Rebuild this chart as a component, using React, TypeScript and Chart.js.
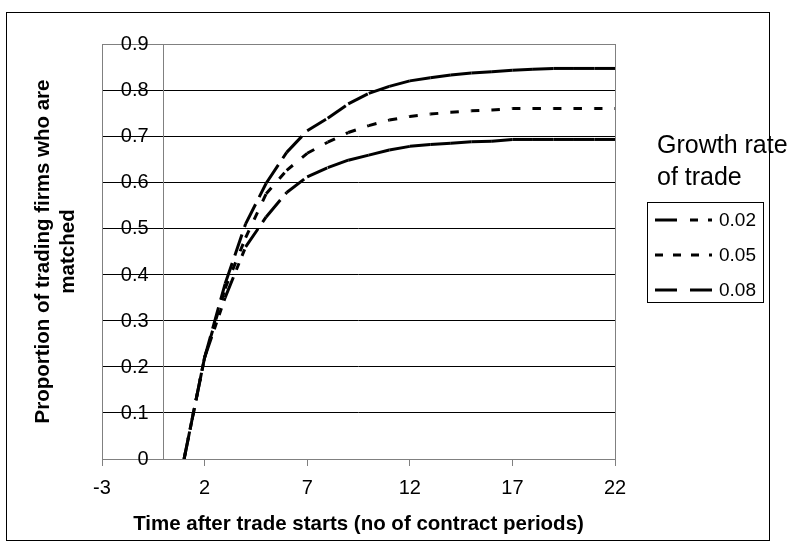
import React, { useEffect, useRef } from "react";
import { Chart, registerables } from "chart.js";

Chart.register(...registerables);

// ---- data ----
const timePoints = [1, 2, 3, 4, 5, 6, 7, 8, 9, 10, 11, 12, 13, 14, 15, 16, 17, 18, 19, 20, 21, 22];
const rate002 = [0, 0.22, 0.35, 0.46, 0.525, 0.578, 0.612, 0.632, 0.648, 0.659, 0.67, 0.678, 0.682, 0.685, 0.688, 0.689, 0.693, 0.693, 0.693, 0.693, 0.693, 0.693];
const rate005 = [0, 0.22, 0.37, 0.48, 0.575, 0.626, 0.663, 0.687, 0.708, 0.723, 0.735, 0.743, 0.748, 0.752, 0.755, 0.757, 0.76, 0.76, 0.76, 0.76, 0.76, 0.76];
const rate008 = [0, 0.22, 0.38, 0.51, 0.598, 0.665, 0.712, 0.739, 0.77, 0.793, 0.808, 0.82, 0.827, 0.833, 0.837, 0.84, 0.843, 0.845, 0.847, 0.847, 0.847, 0.847];
const seriesLabels = ["0.02", "0.05", "0.08"];
const xTickValues = [-3, 2, 7, 12, 17, 22];
const yTickValues = [0, 0.1, 0.2, 0.3, 0.4, 0.5, 0.6, 0.7, 0.8, 0.9];
const xAxisTitle = "Time after trade starts (no of contract periods)";
const yAxisTitleLines = ["Proportion of trading firms who are", "matched"];
const legendTitleLines = ["Growth rate", "of trade"];

const FONT = '"Liberation Sans", Arial, Helvetica, sans-serif';
const plotDashes = [
  [22, 8, 7, 8, 7, 8],
  [8, 12],
  [22, 8],
];
const legendDashes = [
  [22, 13, 8, 10, 8, 10],
  [8, 10],
  [22, 13],
];

const fmtTick = (v: number) => String(Number(Number(v).toFixed(1)));

const framePlugin = {
  id: "frame",
  beforeDraw(chart: any) {
    const { ctx } = chart;
    ctx.save();
    ctx.fillStyle = "#fff";
    ctx.fillRect(0, 0, chart.width, chart.height);
    ctx.strokeStyle = "#000";
    ctx.lineWidth = 1;
    ctx.strokeRect(6.5, 12.5, 763, 528);
    ctx.restore();
  },
  beforeDatasetsDraw(chart: any) {
    const { ctx, chartArea: a } = chart;
    ctx.save();
    ctx.strokeStyle = "#808080";
    ctx.lineWidth = 1;
    ctx.strokeRect(Math.round(a.left) + 0.5, Math.round(a.top) + 0.5, Math.round(a.right - a.left), Math.round(a.bottom - a.top));
    ctx.restore();
  },
  afterDraw(chart: any) {
    const { ctx, chartArea: a } = chart;
    const xs = chart.scales.x;
    const ys = chart.scales.y;

    // y tick labels, right-aligned left of the axis crossing at x = 0
    ctx.save();
    ctx.fillStyle = "#000";
    ctx.font = `20px ${FONT}`;
    ctx.textAlign = "right";
    ctx.textBaseline = "middle";
    const axisX = xs.getPixelForValue(0);
    ys.ticks.forEach((t: any) => {
      ctx.fillText(fmtTick(t.value), axisX - 15, ys.getPixelForValue(t.value) + 0.5);
    });
    ctx.restore();

    // y axis title
    ctx.save();
    ctx.fillStyle = "#000";
    ctx.font = `bold 20.5px ${FONT}`;
    ctx.textAlign = "center";
    ctx.textBaseline = "middle";
    ctx.translate(43, (a.top + a.bottom) / 2);
    ctx.rotate(-Math.PI / 2);
    yAxisTitleLines.forEach((line, i) => ctx.fillText(line, 0, i * 25));
    ctx.restore();

    // legend
    ctx.save();
    ctx.fillStyle = "#000";
    ctx.textAlign = "left";
    ctx.textBaseline = "alphabetic";
    ctx.font = `25px ${FONT}`;
    legendTitleLines.forEach((line, i) => ctx.fillText(line, 657, 153 + i * 32));
    ctx.strokeStyle = "#000";
    ctx.lineWidth = 1;
    ctx.strokeRect(647.5, 202.5, 116, 100);
    ctx.font = `19px ${FONT}`;
    ctx.textBaseline = "middle";
    chart.data.datasets.forEach((ds: any, i: number) => {
      const y = 220 + i * 35;
      ctx.save();
      ctx.strokeStyle = "#000";
      ctx.lineWidth = 3;
      ctx.setLineDash(legendDashes[i]);
      ctx.beginPath();
      ctx.moveTo(655, y);
      ctx.lineTo(712, y);
      ctx.stroke();
      ctx.restore();
      ctx.fillText(ds.label, 719, y + 1);
    });
    ctx.restore();
  },
};

export default function App() {
  const canvasRef = useRef<HTMLCanvasElement | null>(null);

  useEffect(() => {
    document.body.style.margin = "0";
    const canvas = canvasRef.current;
    if (!canvas) return;
    const seriesValues = [rate002, rate005, rate008];
    const chart = new Chart(canvas, {
      type: "line",
      data: {
        datasets: seriesValues.map((vals, i) => ({
          label: seriesLabels[i],
          data: timePoints.map((x, j) => ({ x, y: vals[j] })),
          borderColor: "#000",
          backgroundColor: "#000",
          borderWidth: 3,
          borderDash: plotDashes[i],
          borderCapStyle: "butt",
          borderJoinStyle: "miter",
          pointRadius: 0,
          pointHoverRadius: 0,
          fill: false,
          tension: 0,
          segment: {
            borderDashOffset: (c: any) => (c.p0DataIndex % 2) * 0.001,
          },
        })),
      },
      options: {
        responsive: false,
        animation: false,
        events: [],
        layout: { padding: { left: 102, right: 180, top: 44, bottom: 0 } },
        plugins: {
          legend: { display: false },
          tooltip: { enabled: false },
          title: { display: false },
        },
        scales: {
          x: {
            type: "linear",
            position: "bottom",
            min: -3,
            max: 22,
            afterBuildTicks: (s: any) => {
              s.ticks = xTickValues.map((v) => ({ value: v }));
            },
            afterFit: (s: any) => {
              s.height = 98;
            },
            ticks: {
              color: "#000",
              font: { family: FONT, size: 20 },
              padding: 10,
              maxRotation: 0,
              autoSkip: false,
            },
            grid: {
              drawOnChartArea: false,
              drawTicks: true,
              tickLength: 7,
              color: "#808080",
            },
            border: { color: "#808080", width: 1 },
            title: {
              display: true,
              text: xAxisTitle,
              color: "#000",
              font: { family: FONT, size: 20.5, weight: "bold" },
              padding: { top: 0, bottom: 20 },
            },
          },
          y: {
            type: "linear",
            position: { x: 0 } as any,
            min: 0,
            max: 0.9,
            afterBuildTicks: (s: any) => {
              s.ticks = yTickValues.map((v) => ({ value: v }));
            },
            ticks: {
              display: false,
            },
            grid: {
              drawTicks: true,
              tickLength: 6,
              color: (c: any) => (c.tick && (c.tick.value === 0 || Math.abs(c.tick.value - 0.9) < 1e-9) ? "#808080" : "#000"),
            },
            border: { color: "#808080", width: 1 },
          },
        },
      },
      plugins: [framePlugin],
    } as any);
    return () => chart.destroy();
  }, []);

  return (
    <div style={{ width: 795, height: 557 }}>
      <canvas ref={canvasRef} width={795} height={557} style={{ width: 795, height: 557, display: "block" }} />
    </div>
  );
}
